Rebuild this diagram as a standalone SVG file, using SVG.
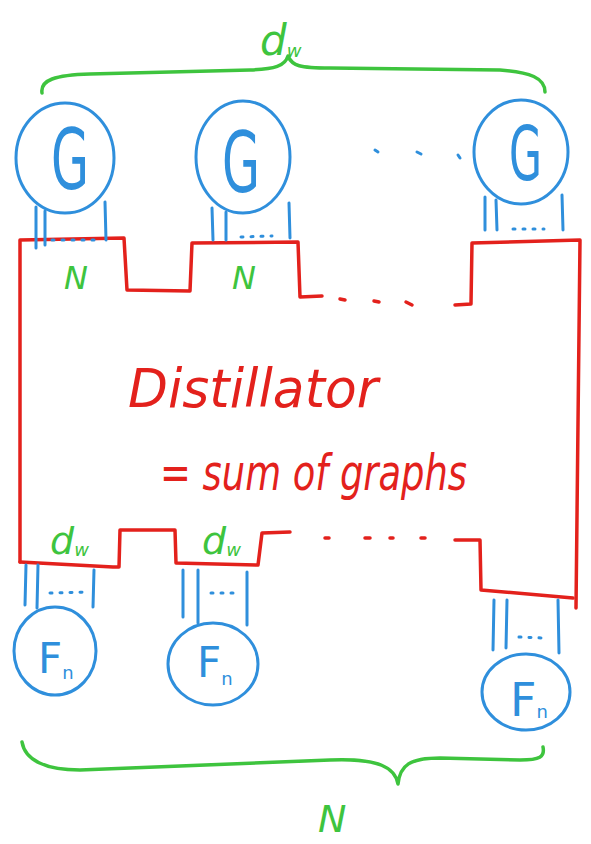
<svg xmlns="http://www.w3.org/2000/svg" width="591" height="844" viewBox="0 0 591 844">
<style>
.bl{fill:none;stroke:#2f8fdc;stroke-width:3;stroke-linecap:round;stroke-linejoin:round}
.rd{fill:none;stroke:#e3211c;stroke-width:3.5;stroke-linecap:round;stroke-linejoin:round}
.gr{fill:none;stroke:#3ec43e;stroke-width:3.5;stroke-linecap:round;stroke-linejoin:round}
.tb{fill:#2f8fdc;font-family:"DejaVu Sans",sans-serif}
.tg{fill:#3ec43e;font-family:"DejaVu Sans",sans-serif;font-style:italic}
.tr{fill:#e3211c;font-family:"DejaVu Sans",sans-serif;font-style:italic}
</style>
<rect width="591" height="844" fill="#ffffff"/>
<g id="brace-top">
<path class="gr" d="M42,93 C40,80 55,75 90,74 L250,70 C275,69 285,66 288,56 C292,66 300,68 330,68 L500,70 C530,72 545,78 545,92"/>
<text class="tg" x="260" y="55" font-size="42">d<tspan font-size="18" dy="2">w</tspan></text>
</g>
<g id="G1">
<ellipse class="bl" cx="65" cy="158" rx="49" ry="55"/>
<text class="tb" x="51" y="189" font-size="84" textLength="38" lengthAdjust="spacingAndGlyphs">G</text>
</g>
<g id="G2">
<ellipse class="bl" cx="243" cy="157" rx="47" ry="56"/>
<text class="tb" x="222" y="192" font-size="84" textLength="38" lengthAdjust="spacingAndGlyphs">G</text>
</g>
<g id="G-dots">
<path class="bl" d="M375,150 l3,2 M417,152 l4,2 M458,155 l2,3"/>
</g>
<g id="G3">
<ellipse class="bl" cx="521" cy="152" rx="47" ry="52"/>
<text class="tb" x="509" y="180" font-size="74" textLength="33" lengthAdjust="spacingAndGlyphs">G</text>
</g>
<g id="distillator">
<path class="rd" d="M20,562 L20,240 L124,238 L127,290 L190,291 L192,243 L298,242 L300,297 L322,296"/>
<path class="rd" d="M340,299 l5,1 M374,301 l5,1 M406,302 l6,3"/>
<path class="rd" d="M455,305 L471,304 L472,243 L580,240 L576,608"/>
<path class="rd" d="M20,562 L113,567 L119,567 L120,530 L175,530 L176,563 L258,565 L262,533 L290,532"/>
<path class="rd" d="M325,538 l4,0 M365,538 l5,0 M390,538 l3,0 M421,538 l4,0"/>
<path class="rd" d="M455,540 L480,540 L481,590 L573,598"/>
<text class="tg" x="64" y="289" font-size="32">N</text>
<text class="tg" x="232" y="289" font-size="32">N</text>
<text class="tg" x="50" y="554" font-size="38">d<tspan font-size="18" dy="2">w</tspan></text>
<text class="tg" x="202" y="554" font-size="38">d<tspan font-size="18" dy="2">w</tspan></text>
<text class="tr" x="128" y="407" font-size="54" textLength="250" lengthAdjust="spacingAndGlyphs">Distillator</text>
<text class="tr" x="160" y="490" font-size="50" textLength="307" lengthAdjust="spacingAndGlyphs">= sum of graphs</text>
</g>
<g id="connectors">
<path class="bl" d="M36,207 L36,248 M45,211 L45,245 M105,202 L106,240"/>
<path class="bl" stroke-dasharray="2 8" d="M52,240 L100,240"/>
<path class="bl" d="M212,208 L213,240 M226,212 L226,240 M289,203 L290,238"/>
<path class="bl" stroke-dasharray="2 8" d="M241,237 L272,236"/>
<path class="bl" d="M485,197 L485,230 M496,200 L497,230 M562,195 L563,230"/>
<path class="bl" stroke-dasharray="2 8" d="M513,229 L544,229"/>
<path class="bl" d="M26,565 L25,605 M38,565 L37,608 M94,570 L93,607"/>
<path class="bl" stroke-dasharray="2 8" d="M50,593 L87,592"/>
<path class="bl" d="M183,570 L183,617 M198,570 L198,623 M247,572 L247,625"/>
<path class="bl" stroke-dasharray="2 8" d="M211,593 L234,593"/>
<path class="bl" d="M494,600 L493,650 M507,600 L506,648 M558,600 L559,653"/>
<path class="bl" stroke-dasharray="2 8" d="M519,637 L542,638"/>
</g>
<g id="F1">
<ellipse class="bl" cx="55" cy="651" rx="41" ry="44"/>
<text class="tb" x="38" y="673" font-size="42">F<tspan font-size="18" dy="6">n</tspan></text>
</g>
<g id="F2">
<ellipse class="bl" cx="213" cy="664" rx="45" ry="41"/>
<text class="tb" x="197" y="677" font-size="42">F<tspan font-size="18" dy="8">n</tspan></text>
</g>
<g id="F3">
<ellipse class="bl" cx="526" cy="692" rx="44" ry="38"/>
<text class="tb" x="510" y="716" font-size="46">F<tspan font-size="18" dy="2">n</tspan></text>
</g>
<g id="brace-bottom">
<path class="gr" d="M22,742 C25,760 45,770 80,770 L330,760 C380,758 395,768 398,784 C400,765 410,758 440,758 L520,760 C540,760 545,757 543,747"/>
<text class="tg" x="318" y="832" font-size="38">N</text>
</g>
</svg>
